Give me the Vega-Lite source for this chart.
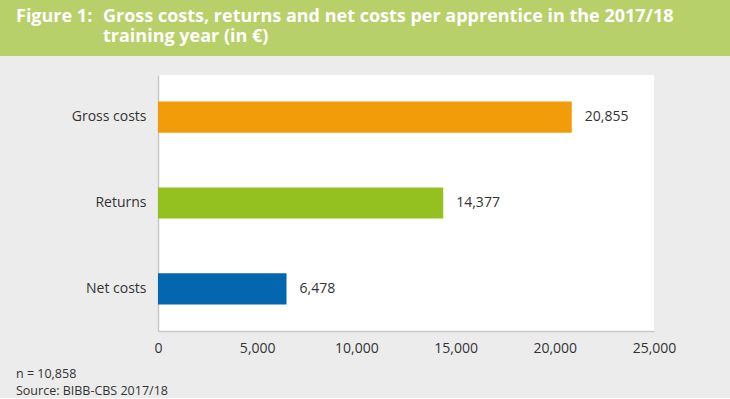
{
  "$schema": "https://vega.github.io/schema/vega-lite/v6.json",
  "background": "#ececec",
  "padding": 0,
  "spacing": 19,
  "config": {
    "font": "Open Sans",
    "view": {"stroke": null},
    "concat": {"spacing": 0}
  },
  "vconcat": [
    {
      "spacing": 0,
      "hconcat": [
        {
          "width": 103,
          "height": 56,
          "view": {"fill": "#b8d06a", "stroke": null},
          "data": {"values": []},
          "mark": "rect",
          "title": {
            "text": "Figure 1:",
            "anchor": "start",
            "frame": "group",
            "orient": "top",
            "offset": -26,
            "dx": 16,
            "font": "Open Sans",
            "fontSize": 18,
            "fontWeight": "bold",
            "color": "#ffffff",
            "lineHeight": 20
          }
        },
        {
          "width": 627,
          "height": 56,
          "view": {"fill": "#b8d06a", "stroke": null},
          "data": {"values": []},
          "mark": "rect",
          "title": {
            "text": ["Gross costs, returns and net costs per apprentice in the 2017/18", "training year (in €)"],
            "anchor": "start",
            "frame": "group",
            "orient": "top",
            "offset": -46,
            "dx": 0,
            "font": "Open Sans",
            "fontSize": 18,
            "fontWeight": "bold",
            "color": "#ffffff",
            "lineHeight": 20
          }
        }
      ]
    },
    {
      "spacing": 0,
      "hconcat": [
        {
          "width": 1,
          "height": 1,
          "data": {"values": []},
          "mark": "rect"
        },
        {
          "width": 496,
          "height": 256,
          "view": {"fill": "#ffffff", "stroke": null},
          "title": {
            "text": ["n = 10,858", "Source: BIBB-CBS 2017/18"],
            "orient": "bottom",
            "anchor": "start",
            "frame": "group",
            "dx": -142,
            "offset": 13,
            "font": "Open Sans",
            "fontSize": 12.5,
            "fontWeight": "normal",
            "color": "#333333",
            "lineHeight": 17
          },
          "data": {
            "values": [
              {"cat": "Gross costs", "value": 20855},
              {"cat": "Returns", "value": 14377},
              {"cat": "Net costs", "value": 6478}
            ]
          },
          "encoding": {
            "y": {
              "field": "cat",
              "type": "nominal",
              "sort": ["Gross costs", "Returns", "Net costs"],
              "scale": {"paddingInner": 0.637, "paddingOuter": 0.31},
              "axis": {
                "title": null,
                "ticks": false,
                "minExtent": 157,
                "maxExtent": 157,
                "domainColor": "#c8c8c8",
                "domainWidth": 1.5,
                "labelPadding": 12,
                "labelFontSize": 14,
                "labelColor": "#333333",
                "labelFont": "Open Sans"
              }
            },
            "x": {
              "field": "value",
              "type": "quantitative",
              "scale": {"domain": [0, 25000], "nice": false},
              "axis": {
                "title": null,
                "grid": false,
                "ticks": false,
                "values": [0, 5000, 10000, 15000, 20000, 25000],
                "format": ",d",
                "domainColor": "#c8c8c8",
                "domainWidth": 1.5,
                "labelPadding": 10,
                "labelFontSize": 14,
                "labelColor": "#333333",
                "labelFont": "Open Sans",
                "labelFlush": false
              }
            }
          },
          "layer": [
            {
              "mark": {"type": "bar"},
              "encoding": {
                "color": {
                  "field": "cat",
                  "type": "nominal",
                  "scale": {
                    "domain": ["Gross costs", "Returns", "Net costs"],
                    "range": ["#f39c0a", "#94c11f", "#0566b0"]
                  },
                  "legend": null
                }
              }
            },
            {
              "mark": {"type": "text", "align": "left", "dx": 13, "fontSize": 14, "font": "Open Sans", "color": "#333333"},
              "encoding": {
                "text": {"field": "value", "type": "quantitative", "format": ","}
              }
            }
          ]
        }
      ]
    }
  ]
}
